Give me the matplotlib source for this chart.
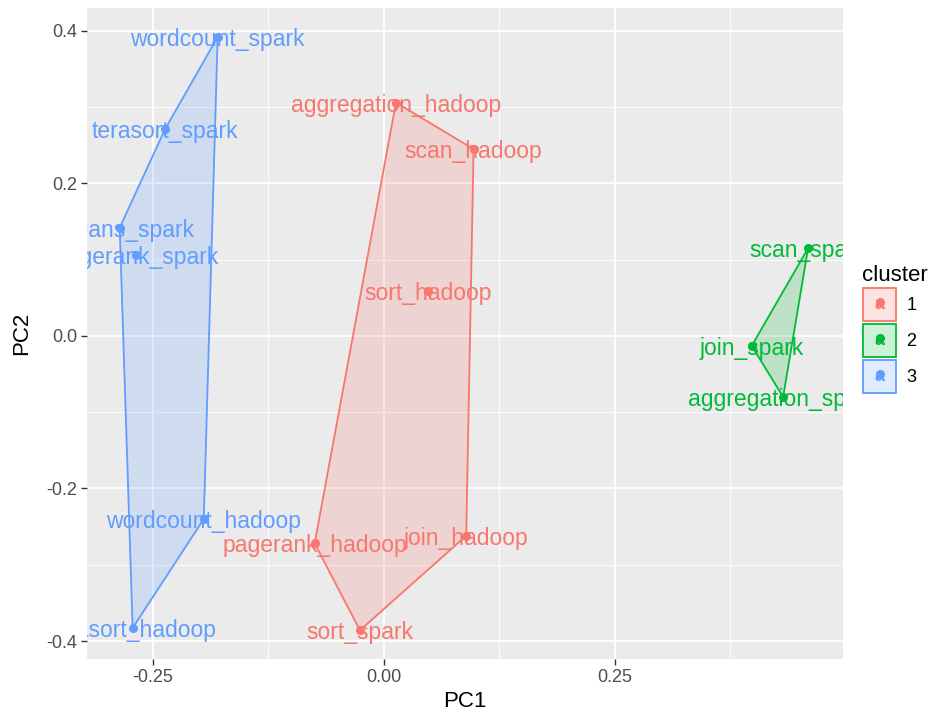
import numpy as np
import matplotlib.pyplot as plt
from matplotlib.patches import Rectangle
from matplotlib.lines import Line2D
from matplotlib.text import Text
from matplotlib.legend_handler import HandlerBase
from matplotlib.colors import to_rgba
from matplotlib.ticker import FixedLocator, FuncFormatter

plt.rcParams["font.family"] = ["Liberation Sans", "DejaVu Sans"]
plt.rcParams["axes.unicode_minus"] = False

# PCA scores
names = ["wordcount_spark", "terasort_spark", "kmeans_spark", "pagerank_spark",
         "wordcount_hadoop", "terasort_hadoop",
         "aggregation_hadoop", "scan_hadoop", "sort_hadoop", "pagerank_hadoop",
         "join_hadoop", "sort_spark",
         "scan_spark", "join_spark", "aggregation_spark"]
pc1 = [-0.180, -0.237, -0.286, -0.268, -0.195, -0.272,
       0.013, 0.097, 0.048, -0.075, 0.089, -0.026,
       0.459, 0.398, 0.432]
pc2 = [0.392, 0.271, 0.142, 0.106, -0.240, -0.383,
       0.306, 0.245, 0.059, -0.272, -0.262, -0.386,
       0.115, -0.013, -0.080]
cluster = [3, 3, 3, 3, 3, 3,
           1, 1, 1, 1, 1, 1,
           2, 2, 2]

cluster_ids = [1, 2, 3]
colors = {1: "#F8766D", 2: "#00BA38", 3: "#619CFF"}

x_ticks = [-0.25, 0.0, 0.25]
y_ticks = [-0.4, -0.2, 0.0, 0.2, 0.4]


def convex_hull(pts):
    pts = sorted(set(pts))
    def cross(o, a, b):
        return (a[0] - o[0]) * (b[1] - o[1]) - (a[1] - o[1]) * (b[0] - o[0])
    lower, upper = [], []
    for p in pts:
        while len(lower) >= 2 and cross(lower[-2], lower[-1], p) <= 0:
            lower.pop()
        lower.append(p)
    for p in reversed(pts):
        while len(upper) >= 2 and cross(upper[-2], upper[-1], p) <= 0:
            upper.pop()
        upper.append(p)
    return lower[:-1] + upper[:-1]


class KeyHandler(HandlerBase):
    # ggplot-like key: shaded box + "a" + point
    def create_artists(self, legend, orig_handle, xdescent, ydescent,
                       width, height, fontsize, trans):
        c = orig_handle.get_color()
        rect = Rectangle((-xdescent + 1, -ydescent + 1), width - 2, height - 2,
                         facecolor=to_rgba(c, 0.2), edgecolor=c, lw=1.3,
                         transform=trans)
        cx, cy = -xdescent + width / 2, -ydescent + height / 2
        txt = Text(cx, cy, "a", ha="center", va="center", color=c,
                   fontsize=13, fontweight="bold", transform=trans)
        dot = Line2D([cx], [cy + 2], marker="o", ms=5.5, color=c, ls="none",
                     transform=trans)
        return [rect, txt, dot]


fig = plt.figure(figsize=(9.38, 7.16), dpi=100)
ax = fig.add_axes([87 / 938, 57 / 716, 756 / 938, 651 / 716])
ax.set_facecolor("#EBEBEB")

pc1 = np.array(pc1)
pc2 = np.array(pc2)
cluster = np.array(cluster)

for k in cluster_ids:
    m = cluster == k
    h = np.array(convex_hull(list(zip(pc1[m], pc2[m]))))
    ax.fill(h[:, 0], h[:, 1], facecolor=to_rgba(colors[k], 0.2),
            edgecolor=colors[k], lw=1.3, zorder=2)

for name, x, y, k in zip(names, pc1, pc2, cluster):
    ax.text(x, y, name, ha="center", va="center_baseline", color=colors[k],
            fontsize=16.5, clip_on=True, zorder=3)
    ax.plot(x, y, "o", ms=5.5, color=colors[k], zorder=4)

ax.set_xlim(-0.3214, 0.4968)
ax.set_ylim(-0.4236, 0.430)

ax.xaxis.set_major_locator(FixedLocator(x_ticks))
ax.yaxis.set_major_locator(FixedLocator(y_ticks))
ax.xaxis.set_minor_locator(FixedLocator([-0.375, -0.125, 0.125, 0.375]))
ax.yaxis.set_minor_locator(FixedLocator([-0.3, -0.1, 0.1, 0.3]))
ax.xaxis.set_major_formatter(FuncFormatter(lambda v, p: f"{v:.2f}"))
ax.yaxis.set_major_formatter(FuncFormatter(lambda v, p: f"{v:.1f}"))

ax.grid(which="major", color="white", lw=1.3, zorder=0)
ax.grid(which="minor", color="white", lw=0.6, zorder=0)
ax.set_axisbelow(True)
for s in ax.spines.values():
    s.set_visible(False)
ax.tick_params(which="major", length=4, width=1, color="#333333",
               labelcolor="#4D4D4D", labelsize=13, pad=3)
ax.tick_params(which="minor", length=0)

ax.set_xlabel("PC1", fontsize=16, labelpad=4)
ax.set_ylabel("PC2", fontsize=16, labelpad=10)

handles = [Line2D([], [], color=colors[k]) for k in cluster_ids]
leg = fig.legend(handles, [str(k) for k in cluster_ids], title="cluster",
                 loc="center left", bbox_to_anchor=(862 / 938, 1 - 330 / 716),
                 frameon=False, handler_map={Line2D: KeyHandler()},
                 handlelength=1.95, handleheight=2.7, handletextpad=0.5,
                 labelspacing=0.0, fontsize=13, title_fontsize=16,
                 alignment="left", borderaxespad=0, borderpad=0)

fig.savefig("out.png", dpi=100)
